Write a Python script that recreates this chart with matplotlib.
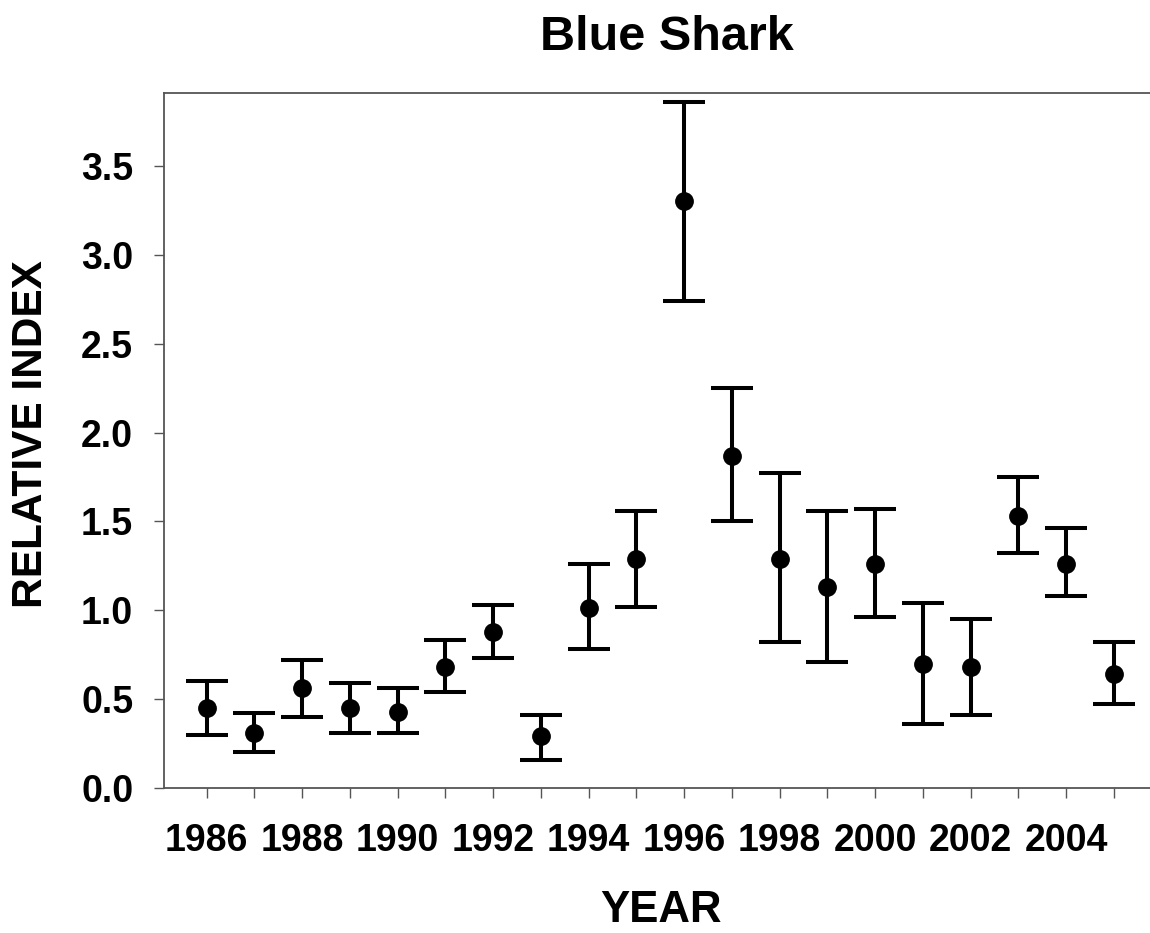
import numpy as np
import matplotlib
matplotlib.use('Agg')
import matplotlib.pyplot as plt

# values
years = np.arange(1986, 2006)
index = np.array([0.45, 0.31, 0.56, 0.45, 0.43, 0.68, 0.88, 0.29, 1.01, 1.29,
                  3.30, 1.87, 1.29, 1.13, 1.26, 0.70, 0.68, 1.53, 1.26, 0.64])
upper = np.array([0.60, 0.42, 0.72, 0.59, 0.56, 0.83, 1.03, 0.41, 1.26, 1.56,
                  3.86, 2.25, 1.77, 1.56, 1.57, 1.04, 0.95, 1.75, 1.46, 0.82])
lower = np.array([0.30, 0.20, 0.40, 0.31, 0.31, 0.54, 0.73, 0.16, 0.78, 1.02,
                  2.74, 1.50, 0.82, 0.71, 0.96, 0.36, 0.41, 1.32, 1.08, 0.47])
yticks = [0.0, 0.5, 1.0, 1.5, 2.0, 2.5, 3.0, 3.5]
xticks_labeled = list(range(1986, 2005, 2))

plt.rcParams['font.family'] = ['Liberation Sans', 'DejaVu Sans']
plt.rcParams['font.weight'] = 'bold'

W, H = 1150, 933
fig = plt.figure(figsize=(W / 100, H / 100), dpi=100)
ax = fig.add_axes([164 / W, 1 - 788 / H, (W - 164) / W, (788 - 93) / H])

ax.errorbar(years, index, yerr=[index - lower, upper - index], fmt='o',
            color='black', ms=12.5, elinewidth=2.9, capsize=15, capthick=2.9)

ax.set_xlim(1985.106, 2005.755)
ax.set_ylim(0, 3.91)

ax.set_yticks(yticks)
ax.set_yticklabels([f'{v:.1f}' for v in yticks])
ax.set_xticks(years)
ax.set_xticklabels([str(y) if y in xticks_labeled else '' for y in years])

for side in ['left', 'top', 'bottom']:
    ax.spines[side].set_color('#555555')
    ax.spines[side].set_linewidth(1.3)
ax.spines['right'].set_visible(False)

ax.tick_params(axis='both', direction='out', length=7.2, width=1.0,
               color='#555555', labelsize=27)
ax.tick_params(axis='y', pad=15)
ax.tick_params(axis='x', pad=18)
for lab in ax.get_xticklabels() + ax.get_yticklabels():
    lab.set_fontweight('bold')

fig.text(667 / W, 1 - 37 / H, 'Blue Shark', ha='center', va='center',
         fontsize=35, fontweight='bold')
fig.text(661 / W, 1 - 910 / H, 'YEAR', ha='center', va='center',
         fontsize=31.5, fontweight='bold')
fig.text(31 / W, 1 - 434 / H, 'RELATIVE INDEX', ha='center', va='center',
         rotation=90, fontsize=30.5, fontweight='bold')

fig.savefig('out.png', dpi=100)
